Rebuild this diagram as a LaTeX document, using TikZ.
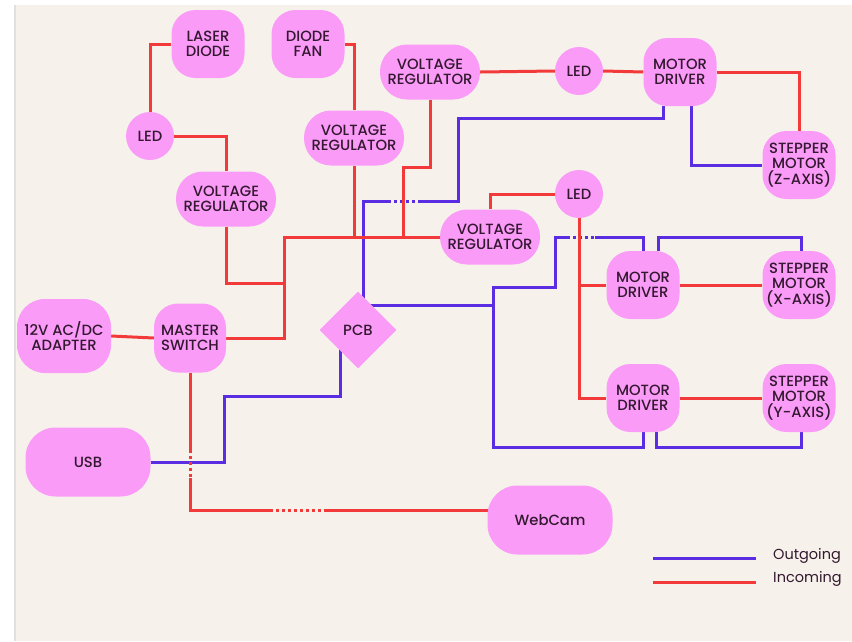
\documentclass[tikz,border=0pt]{standalone}
\usepackage{fontspec}
\setmainfont{Poppins}
\newfontfamily\labelfont{Poppins}[UprightFont = * Medium]
\usetikzlibrary{shapes.geometric,calc}
\definecolor{paper}{HTML}{F6F2EB}
\definecolor{blockpink}{HTML}{FA9BF8}
\definecolor{inred}{HTML}{F23A3A}
\definecolor{outblue}{HTML}{5A2CE2}
\definecolor{ink}{HTML}{33182F}
\pgfdeclarelayer{wires}
\pgfsetlayers{wires,main}
\begin{document}
\begin{tikzpicture}[x=1pt,y=-1pt,
  block/.style={fill=blockpink, text=ink, align=center, inner sep=0pt,
    font=\labelfont\fontsize{14.8}{15.5}\selectfont},
  squarish/.style={block, rectangle, rounded corners=24pt, minimum width=73pt, minimum height=68pt},
  pill/.style={block, rectangle, rounded corners=27pt, minimum width=100pt, minimum height=55pt},
  wide/.style={block, rectangle, rounded corners=30pt, minimum width=125pt, minimum height=69pt},
  lamp/.style={block, circle, minimum size=48pt},
  chip/.style={block, diamond, minimum width=77pt, minimum height=77pt},
  inw/.style={draw=inred, line width=3pt},
  outw/.style={draw=outblue, line width=3pt},
  gapped/.style={dash pattern=on 3pt off 3pt},
  keytext/.style={text=ink, anchor=west, inner sep=0pt, font=\fontsize{14.5}{16}\selectfont}
]
\useasboundingbox (0,0) rectangle (852,641);

% ---- blocks ----
\node[squarish] (laser) at (208,44) {LASER\\DIODE};
\node[squarish] (fan) at (308,44) {DIODE\\FAN};
\node[lamp] (ledA) at (150,136) {LED};
\node[pill] (vrA) at (226,199) {VOLTAGE\\REGULATOR};
\node[pill] (vrB) at (354,138) {VOLTAGE\\REGULATOR};
\node[pill] (vrC) at (430,72) {VOLTAGE\\REGULATOR};
\node[lamp] (ledB) at (579,71) {LED};
\node[squarish] (mdZ) at (680,72) {MOTOR\\DRIVER};
\node[squarish] (smZ) at (799,165) {STEPPER\\MOTOR\\(Z-AXIS)};
\node[lamp] (ledC) at (579,194) {LED};
\node[pill] (vrD) at (490,237) {VOLTAGE\\REGULATOR};
\node[squarish] (mdX) at (643,285) {MOTOR\\DRIVER};
\node[squarish] (smX) at (799,285) {STEPPER\\MOTOR\\(X-AXIS)};
\node[squarish] (mdY) at (643,398) {MOTOR\\DRIVER};
\node[squarish] (smY) at (799,398) {STEPPER\\MOTOR\\(Y-AXIS)};
\node[block, rectangle, rounded corners=28pt, minimum width=94pt, minimum height=74pt] (adapter) at (64,336) {12V AC/DC\\ADAPTER};
\node[squarish, minimum width=72pt, minimum height=69pt] (switch) at (190,338) {MASTER\\SWITCH};
\node[chip] (pcb) at (358,330) {PCB};
\node[wide] (usb) at (88,462) {USB};
\node[wide] (cam) at (550,520) {WebCam};

% ---- legend ----
\coordinate (k1) at (653,558);
\coordinate (k2) at (756,558);
\coordinate (k3) at (653,582);
\coordinate (k4) at (756,582);
\draw[outw] (k1) -- (k2);
\draw[inw] (k3) -- (k4);
\node[keytext] (kout) at (773,556) {Outgoing};
\node[keytext] (kin) at (773,579) {Incoming};

\begin{pgfonlayer}{wires}
\fill[white] (0,0) rectangle (852,641);
\fill[paper] (15,5) rectangle (852,641);
\draw[black!12, line width=1.5pt] (15,5) -- (15,641);

% ---- outgoing (blue) ----
\draw[outw] ($(mdZ.south)+(11,0)$) |- (smZ.west);
\coordinate (z1) at (363,201);
\coordinate (z2) at (388,201);
\coordinate (z3) at (420,201);
\coordinate (z4) at (458,201);
\coordinate (z5) at (458,118);
\draw[outw] ($(pcb.north)+(5,9)$) -- (z1) -- (z2);
\draw[outw, gapped] (z2) -- (z3);
\draw[outw] (z3) -- (z4) -- (z5) -| ($(mdZ.south)+(-17,0)$);

\coordinate (p1) at (494,305);
\coordinate (p2) at (493,287);
\coordinate (p3) at (493,447);
\coordinate (p5) at (555,237);
\coordinate (p4) at (555,287);
\coordinate (p6) at (567,237);
\coordinate (p7) at (595,237);
\draw[outw] ($(pcb.center)+(0,-25)$) -- (p1);
\draw[outw] (p6) -- (p5) -- (p4) -- (p2) -- (p3) -| (mdY.south);
\draw[outw, gapped] (p6) -- (p7);
\draw[outw] (p7) -| (mdX.north);

\coordinate (x1) at (658,237);
\coordinate (x2) at (801,237);
\draw[outw] ($(mdX.north)+(15,0)$) -- (x1) -- (x2) -- (x2 |- smX.north);
\coordinate (y1) at (656,447);
\coordinate (y2) at (801,447);
\draw[outw] ($(mdY.south)+(13,0)$) -- (y1) -- (y2) -- (y2 |- smY.south);

\coordinate (u1) at (224,462);
\coordinate (u2) at (224,396);
\coordinate (u3) at (340,396);
\draw[outw] (usb.east) -- (u1) -- (u2) -- (u3) -- ($(pcb.center)+(-18,12)$);

% ---- incoming (red) ----
\draw[inw] (laser.west) -| (ledA.north);
\draw[inw] (ledA.east) -| (vrA.north);
\draw[inw] (fan.east) -| (vrB.north);
\coordinate (j1) at (284,237);
\coordinate (j2) at (284,283);
\draw[inw] (switch.east) -| (j1) -- (vrD.west);
\draw[inw] (vrA.south) |- (j2);
\draw[inw] (vrB.south) -- (vrB.south |- j1);
\coordinate (c2) at (403,167);
\draw[inw] (vrC.south) |- (c2) -- (c2 |- j1);
\draw[inw] (vrC.east) -- (ledB.west);
\draw[inw] (ledB.east) -- (mdZ.west);
\draw[inw] (mdZ.east) -| (smZ.north);
\draw[inw] (vrD.north) |- (ledC.west);
\draw[inw] (ledC.south) |- (mdX.west);
\draw[inw] (ledC.south) |- (mdY.west);
\draw[inw] (mdX.east) -- (smX.west);
\draw[inw] (mdY.east) -- (smY.west);
\draw[inw] (adapter.east) -- (switch.west);

\coordinate (w1) at (190,450);
\coordinate (w2) at (190,478);
\coordinate (w3) at (270,510);
\coordinate (w4) at (325,510);
\draw[inw] (switch.south) -- (w1);
\draw[inw, gapped] (w1) -- (w2);
\draw[inw] (w2) |- (w3);
\draw[inw, gapped] (w3) -- (w4);
\draw[inw] (w4) -- ($(cam.west)+(6,-10)$);
\end{pgfonlayer}
\end{tikzpicture}
\end{document}
